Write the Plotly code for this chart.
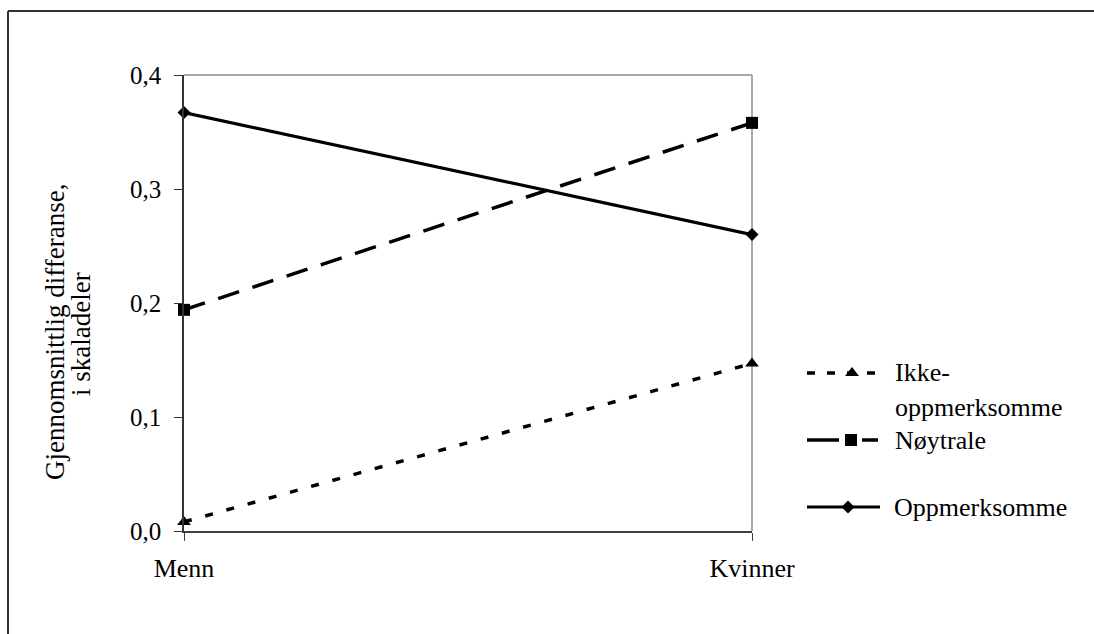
import plotly.graph_objects as go

# Categories and series values
categories = ["Menn", "Kvinner"]
ikke_oppmerksomme = [0.008, 0.147]
noytrale = [0.194, 0.358]
oppmerksomme = [0.367, 0.260]

y_ticks = [0.0, 0.1, 0.2, 0.3, 0.4]
y_tick_text = ["0,0", "0,1", "0,2", "0,3", "0,4"]

FONT = "Liberation Serif, Times New Roman, serif"
FS = 26

W, H = 1094, 634
ML, MR, MT, MB = 184, 4, 75, 103
PW = W - ML - MR
PH = H - MT - MB
PLOT_RIGHT = 752  # right edge of the chart frame, px


def px_x(px):
    """Horizontal pixel position -> paper fraction."""
    return (px - ML) / PW


def px_y(py):
    """Vertical pixel position (from top) -> paper fraction."""
    return (H - MB - py) / PH


x_pos = list(range(len(categories)))

fig = go.Figure()

# Data series on the main axes
fig.add_trace(go.Scatter(
    x=x_pos, y=ikke_oppmerksomme, mode="lines+markers", name="Ikke-oppmerksomme",
    line=dict(color="black", width=3.5, dash="8px,14px"),
    marker=dict(symbol="triangle-up", size=12, color="black"),
    cliponaxis=False, showlegend=False,
))
fig.add_trace(go.Scatter(
    x=x_pos, y=noytrale, mode="lines+markers", name="Nøytrale",
    line=dict(color="black", width=3.5, dash="22px,14px"),
    marker=dict(symbol="square", size=12, color="black"),
    cliponaxis=False, showlegend=False,
))
fig.add_trace(go.Scatter(
    x=x_pos, y=oppmerksomme, mode="lines+markers", name="Oppmerksomme",
    line=dict(color="black", width=3.2),
    marker=dict(symbol="diamond", size=10, color="black"),
    cliponaxis=False, showlegend=False,
))

# Legend block drawn on an auxiliary pixel-scaled axis pair (x2/y2)
LX0, LX1 = 807, 878
leg_y = {"ikke": 373, "noy": 440, "opp": 507}
fig.add_trace(go.Scatter(
    x=[LX0, LX1], y=[leg_y["ikke"]] * 2, mode="lines", xaxis="x2", yaxis="y2",
    line=dict(color="black", width=3.5, dash="8px,12px"), showlegend=False, hoverinfo="skip",
))
fig.add_trace(go.Scatter(
    x=[852], y=[leg_y["ikke"]], mode="markers", xaxis="x2", yaxis="y2",
    marker=dict(symbol="triangle-up", size=12, color="black"), showlegend=False, hoverinfo="skip",
))
fig.add_trace(go.Scatter(
    x=[LX0, 839, None, 862, LX1], y=[leg_y["noy"]] * 5, mode="lines", xaxis="x2", yaxis="y2",
    line=dict(color="black", width=3.5), showlegend=False, hoverinfo="skip",
))
fig.add_trace(go.Scatter(
    x=[851], y=[leg_y["noy"]], mode="markers", xaxis="x2", yaxis="y2",
    marker=dict(symbol="square", size=12, color="black"), showlegend=False, hoverinfo="skip",
))
fig.add_trace(go.Scatter(
    x=[LX0, 880], y=[leg_y["opp"]] * 2, mode="lines", xaxis="x2", yaxis="y2",
    line=dict(color="black", width=3.2), showlegend=False, hoverinfo="skip",
))
fig.add_trace(go.Scatter(
    x=[848], y=[leg_y["opp"]], mode="markers", xaxis="x2", yaxis="y2",
    marker=dict(symbol="diamond", size=10, color="black"), showlegend=False, hoverinfo="skip",
))


def label(px, py, text, **kw):
    return dict(x=px_x(px), y=px_y(py), text=text, xref="paper", yref="paper",
                showarrow=False, **kw)


TITLE_FONT = dict(family=FONT, size=27, color="black")

annotations = [
    label(893, leg_y["ikke"], "Ikke-", xanchor="left", yanchor="middle"),
    label(893, 407, "oppmerksomme", xanchor="left", yanchor="middle"),
    label(893, leg_y["noy"], "Nøytrale", xanchor="left", yanchor="middle"),
    label(892, leg_y["opp"], "Oppmerksomme", xanchor="left", yanchor="middle"),
    # y-axis title, two lines
    label(55, 332, "Gjennomsnittlig differanse,", textangle=-90,
          xanchor="center", yanchor="middle", font=TITLE_FONT),
    label(81, 334, "i skaladeler", textangle=-90, xanchor="center", yanchor="middle",
          font=TITLE_FONT),
]


def paper_line(x0, y0, x1, y1, color, width):
    return dict(type="line", xref="paper", yref="paper",
                x0=px_x(x0), x1=px_x(x1), y0=px_y(y0), y1=px_y(y1),
                line=dict(color=color, width=width), layer="below")


shapes = [
    # gray frame on top and right of the plotting area
    paper_line(ML, MT, PLOT_RIGHT, MT, "#8c8c8c", 1.5),
    paper_line(PLOT_RIGHT, MT, PLOT_RIGHT, H - MB, "#8c8c8c", 1.5),
    # outer border (left and top edges)
    paper_line(8, 11, 8, H + 5, "#333333", 2),
    paper_line(8, 11, W + 5, 11, "#333333", 2),
]

main_x_dom = (PLOT_RIGHT - ML) / PW
leg_x0 = (800 - ML) / PW

fig.update_layout(
    width=W, height=H,
    margin=dict(l=ML, r=MR, t=MT, b=MB, pad=0, autoexpand=False),
    paper_bgcolor="white", plot_bgcolor="white",
    font=dict(family=FONT, size=FS, color="black"),
    showlegend=False,
    annotations=annotations,
    shapes=shapes,
    xaxis=dict(
        domain=[0, main_x_dom], range=[0, 1], tickvals=x_pos, ticktext=categories,
        showgrid=False, zeroline=False, showline=True, linecolor="#404040", linewidth=1.5,
        ticks="outside", ticklen=8, tickwidth=1.2, tickcolor="#404040",
        ticklabelstandoff=5, automargin=False, fixedrange=True,
        tickfont=dict(family=FONT, size=FS),
    ),
    yaxis=dict(
        domain=[0, 1], range=[0, 0.4], tickvals=y_ticks, ticktext=y_tick_text,
        showgrid=False, zeroline=False, showline=True, linecolor="#333333", linewidth=1.5,
        ticks="outside", ticklen=8, tickwidth=1.2, tickcolor="#333333",
        ticklabelstandoff=8, automargin=False, fixedrange=True,
        tickfont=dict(family=FONT, size=25),
    ),
    xaxis2=dict(
        domain=[leg_x0, 1.0], range=[800, W - MR], anchor="y2",
        visible=False, fixedrange=True, automargin=False,
    ),
    yaxis2=dict(
        domain=[0, 1], range=[H - MB, MT], anchor="x2",
        visible=False, fixedrange=True, automargin=False,
    ),
)

fig.write_html("out.html", config={"displayModeBar": False})
